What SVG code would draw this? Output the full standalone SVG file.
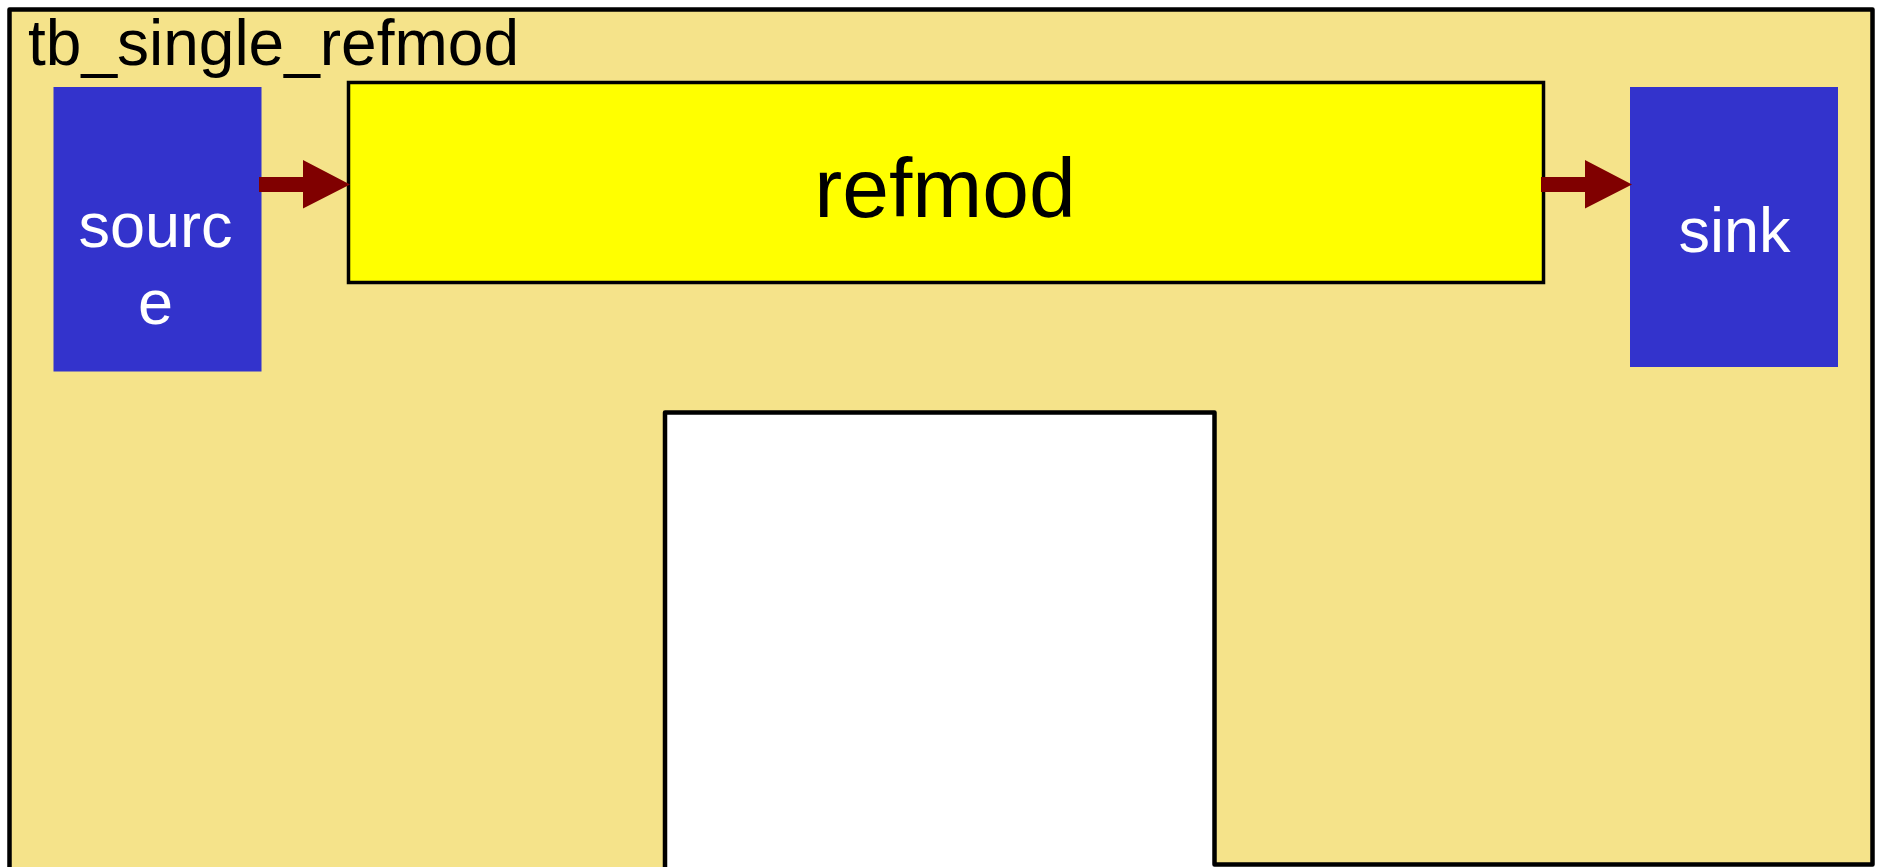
<svg xmlns="http://www.w3.org/2000/svg" width="1877" height="867" viewBox="0 0 1877 867">
<style>
.lbl{font-family:"Liberation Sans",Arial,sans-serif;}
.blk{fill:#3333CC;}
.wt{fill:#FFFFFF;font-size:63px;text-anchor:middle;}
.arr{fill:#800000;}
</style>
<rect x="0" y="0" width="1877" height="867" fill="#FFFFFF"/>
<g id="tb_single_refmod">
<path d="M9.5,9.5 L1872.5,9.5 L1872.5,864.5 L1214.5,864.5 L1214.5,412.5 L665,412.5 L665,900 L9.5,900 Z" fill="#F5E38A" stroke="#000000" stroke-width="4.5" stroke-linejoin="round"/>
<text class="lbl" x="28" y="65" font-size="64" fill="#000000">tb_single_refmod</text>
</g>
<g id="source">
<rect class="blk" x="53.5" y="87" width="208" height="284.5"/>
<text class="lbl wt" x="155.5" y="247">sourc</text>
<text class="lbl wt" x="155.5" y="324">e</text>
</g>
<g id="refmod">
<rect x="348.5" y="82.5" width="1195" height="200" fill="#FFFF00" stroke="#000000" stroke-width="3.5"/>
<text class="lbl" x="945" y="217" font-size="84" text-anchor="middle" fill="#000000">refmod</text>
</g>
<g id="sink">
<rect class="blk" x="1630" y="87" width="208" height="280"/>
<text class="lbl wt" x="1734.5" y="252">sink</text>
</g>
<g id="connectors">
<path class="arr" d="M259,177 L303,177 L303,160 L350,184.5 L303,208.5 L303,192 L259,192 Z"/>
<path class="arr" d="M1541,177 L1585,177 L1585,160 L1632,184.5 L1585,208.5 L1585,192 L1541,192 Z"/>
</g>
</svg>
